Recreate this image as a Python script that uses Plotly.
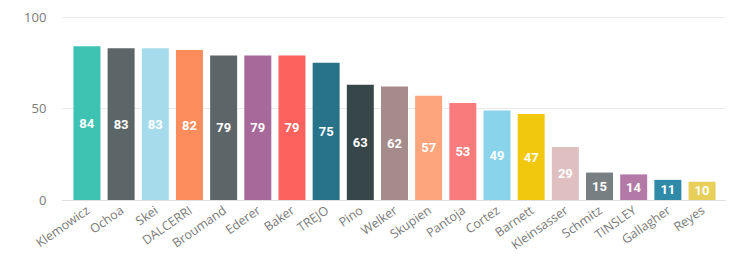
import plotly.graph_objects as go

names = ["Klemowicz", "Ochoa", "Skei", "DALCERRI", "Broumand", "Ederer", "Baker", "TREJO",
         "Pino", "Welker", "Skupien", "Pantoja", "Cortez", "Barnett", "Kleinsasser",
         "Schmitz", "TINSLEY", "Gallagher", "Reyes"]
values = [84, 83, 83, 82, 79, 79, 79, 75, 63, 62, 57, 53, 49, 47, 29, 15, 14, 11, 10]
colors = ["#3ec2b2", "#5c6568", "#a6dbec", "#fd8c5c", "#5c6568", "#a66999", "#fd625e", "#28738a",
          "#374649", "#a68b8b", "#fca47c", "#f97b7b", "#8ad4eb", "#f2c80f", "#dfbfbf",
          "#777f82", "#b37aa8", "#2f8aa8", "#e8cf5a"]
y_ticks = [0, 50, 100]

fig = go.Figure(go.Bar(
    x=names, y=values,
    marker=dict(color=colors, line=dict(width=0)),
    text=[str(v) for v in values],
    textposition="inside", insidetextanchor="middle",
    textangle=0,
    textfont=dict(family="Roboto", size=13, color="white", weight="bold"),
    cliponaxis=False,
))

# page body has an 8px default margin; margins compensate for it
fig.update_layout(
    width=734, height=257,
    margin=dict(l=54, r=14, t=8, b=65),
    paper_bgcolor="white", plot_bgcolor="white",
    bargap=0.21, showlegend=False,
    uniformtext=dict(minsize=13, mode="show"),
)
fig.update_xaxes(
    type="category", range=[-0.73, 18.76], automargin=False,
    tickangle=-35, tickfont=dict(family="Open Sans", size=12.5, color="#7a7a7a"),
    showgrid=False, showline=False, ticks="", zeroline=False,
    ticklabeloverflow="allow",
)
fig.update_yaxes(
    range=[0, 100.6], tickvals=y_ticks, automargin=False,
    tickfont=dict(family="Open Sans", size=13, color="#7a7a7a"),
    showgrid=True, gridcolor="#eaeaea", gridwidth=1,
    zeroline=True, zerolinecolor="#e0e0e0", zerolinewidth=1,
    showline=False, ticks="outside", ticklen=12, tickcolor="rgba(0,0,0,0)",
    ticklabeloverflow="allow",
)

fig.write_html("out.html")
